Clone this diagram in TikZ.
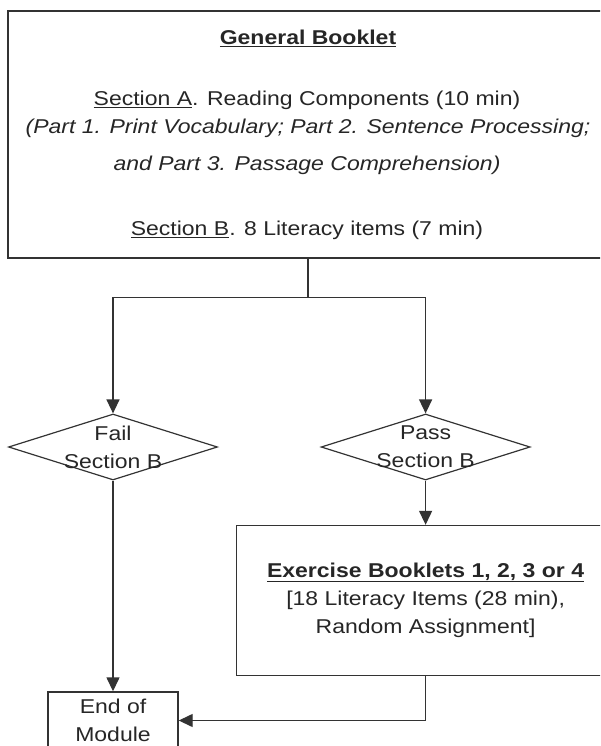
\documentclass[tikz,border=0pt]{standalone}
\usepackage{fontspec}
\setmainfont{Liberation Sans}[FakeStretch=1.15]
\usetikzlibrary{arrows.meta,shapes.geometric}
\begin{document}
\begin{tikzpicture}[x=1pt,y=-1pt,
  line/.style={draw=black!80,line width=1.4pt},
  arr/.style={line,-{Triangle[length=14pt,width=13pt]}},
  box/.style={draw=black!80,line width=1.4pt,rectangle,inner sep=0pt},
  dia/.style={draw=black!80,line width=1.2pt,diamond,inner sep=0pt},
  txt/.style={font=\fontsize{20}{28}\selectfont,align=center,inner sep=0pt,text=black!85}]
\useasboundingbox (0,0) rectangle (600,746);
\clip (0,0) rectangle (600,746);
% top box
\node[box,minimum width=600pt,minimum height=247pt] (gen) at (308,134.5) {};
\node[txt] (t1) at (308,38) {\textbf{\underline{General Booklet}}};
\node[txt] (t2) at (307,100) {\underline{Section A}. Reading Components (10 min)};
\node[txt] (t3) at (308,128) {\itshape (Part 1. Print Vocabulary; Part 2. Sentence Processing;};
\node[txt] (t4) at (307,165) {\itshape and Part 3. Passage Comprehension)};
\node[txt] (t5) at (307,230) {\underline{Section B}. 8 Literacy items (7 min)};
% diamonds
\node[dia,minimum width=209pt,minimum height=66pt] (fail) at (113,447) {};
\node[txt] (failt) at (113,447) {Fail\\Section B};
\node[dia,minimum width=209pt,minimum height=66pt] (pass) at (425.6,447) {};
\node[txt] (passt) at (425.6,447) {Pass\\Section B};
% exercise box
\node[box,minimum width=378pt,minimum height=150pt] (ex) at (425.6,600.5) {};
\node[txt] (ext) at (425.6,600) {\textbf{\underline{Exercise Booklets 1, 2, 3 or 4}}\\{}[18 Literacy Items (28 min),\\Random Assignment]};
% end box
\node[box,minimum width=130pt,minimum height=57pt,txt,draw=black!80,line width=1.4pt] (end) at (113,720.5) {End of\\Module};
% connectors
\coordinate (split) at (308,297.5);
\draw[line] (gen.south) -- (split);
\draw[arr] (split) -| (fail.north);
\draw[arr] (split) -| (pass.north);
\draw[arr] (pass.south) -- (ex.north);
\draw[arr] (fail.south) -- (end.north);
\draw[arr] (ex.south) |- (end.east);
\end{tikzpicture}
\end{document}
